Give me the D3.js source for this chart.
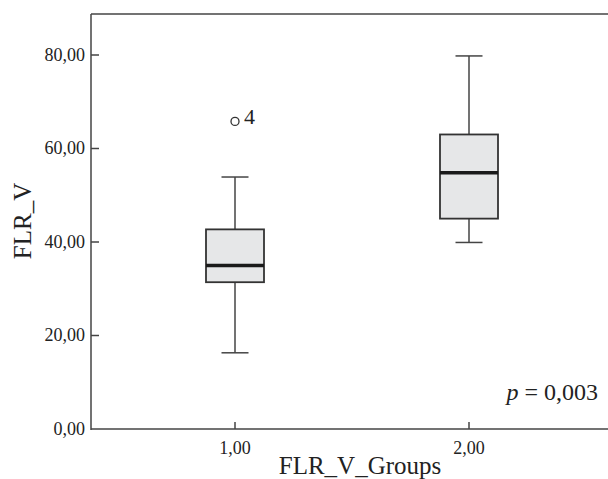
<!DOCTYPE html>
<html>
<head>
<meta charset="utf-8">
<script src="https://cdn.jsdelivr.net/npm/d3@7"></script>
<style>
  body { margin: 0; background: #fff; }
  svg text { font-family: "Liberation Serif", "Times New Roman", "DejaVu Serif", serif; }
</style>
</head>
<body>
<div class="chart"></div>
<script>
// box plot summaries
const groups = ['1,00', '2,00'];
const whiskerLow = [16.3, 39.9];
const q1 = [31.4, 45.0];
const median = [35.0, 54.8];
const q3 = [42.7, 63.0];
const whiskerHigh = [53.9, 79.8];
const outliers = [{group: '1,00', value: 65.8, label: '4'}];
const yTicks = [0, 20, 40, 60, 80];

const width = 608, height = 479;
const plotLeft = 91, plotTop = 14, plotBottom = 429;

const svg = d3.select('.chart').append('svg')
    .attr('width', width)
    .attr('height', height);

const y = d3.scaleLinear().domain([0, 80]).range([plotBottom, 55]);
const x = d3.scalePoint().domain(groups).range([235, 469]);

const fmt = d => d3.format('.2f')(d).replace('.', ',');
const ink = '#444';

// frame: left axis, bottom axis, top line
svg.append('line').attr('x1', plotLeft).attr('x2', plotLeft).attr('y1', plotTop).attr('y2', plotBottom + 1)
    .attr('stroke', ink).attr('stroke-width', 1.5);
svg.append('line').attr('x1', plotLeft).attr('x2', width).attr('y1', plotBottom).attr('y2', plotBottom)
    .attr('stroke', ink).attr('stroke-width', 1.5);
svg.append('line').attr('x1', plotLeft).attr('x2', width).attr('y1', plotTop).attr('y2', plotTop)
    .attr('stroke', ink).attr('stroke-width', 1.5);

// y ticks
const yt = svg.selectAll('.ytick').data(yTicks).enter().append('g')
    .attr('transform', d => 'translate(0,' + y(d) + ')');
yt.filter(d => d > 0).append('line').attr('x1', plotLeft).attr('x2', plotLeft + 8)
    .attr('stroke', ink).attr('stroke-width', 1.5);
yt.append('text')
    .attr('x', 85).attr('dy', '0.33em')
    .attr('text-anchor', 'end')
    .attr('font-size', '18px').attr('fill', '#222')
    .text(fmt);

// x ticks
const xt = svg.selectAll('.xtick').data(groups).enter().append('g')
    .attr('transform', d => 'translate(' + x(d) + ',0)');
xt.append('line').attr('y1', plotBottom).attr('y2', plotBottom - 7)
    .attr('stroke', ink).attr('stroke-width', 1.5);
xt.append('text')
    .attr('y', 454).attr('text-anchor', 'middle')
    .attr('font-size', '18px').attr('fill', '#222')
    .text(d => d);

// axis titles
svg.append('text')
    .attr('x', 360).attr('y', 474)
    .attr('text-anchor', 'middle')
    .attr('font-size', '25px').attr('fill', '#222')
    .text('FLR_V_Groups');
svg.append('text')
    .attr('transform', 'translate(31,221) rotate(-90)')
    .attr('text-anchor', 'middle')
    .attr('font-size', '25px').attr('fill', '#222')
    .text('FLR_V');

// boxes
const boxW = 58, capW = 27;
const boxes = groups.map((g, i) => ({g, lo: whiskerLow[i], q1: q1[i], med: median[i], q3: q3[i], hi: whiskerHigh[i]}));
const bx = svg.selectAll('.box').data(boxes).enter().append('g')
    .attr('transform', d => 'translate(' + x(d.g) + ',0)');

bx.append('line').attr('y1', d => y(d.hi)).attr('y2', d => y(d.q3))
    .attr('stroke', ink).attr('stroke-width', 1.5);
bx.append('line').attr('y1', d => y(d.q1)).attr('y2', d => y(d.lo))
    .attr('stroke', ink).attr('stroke-width', 1.5);
bx.append('line').attr('x1', -capW / 2).attr('x2', capW / 2)
    .attr('y1', d => y(d.hi)).attr('y2', d => y(d.hi))
    .attr('stroke', ink).attr('stroke-width', 1.5);
bx.append('line').attr('x1', -capW / 2).attr('x2', capW / 2)
    .attr('y1', d => y(d.lo)).attr('y2', d => y(d.lo))
    .attr('stroke', ink).attr('stroke-width', 1.5);
bx.append('rect')
    .attr('x', -boxW / 2).attr('width', boxW)
    .attr('y', d => y(d.q3)).attr('height', d => y(d.q1) - y(d.q3))
    .attr('fill', '#e6e7e8').attr('stroke', '#333').attr('stroke-width', 1.8);
bx.append('line').attr('x1', -boxW / 2).attr('x2', boxW / 2)
    .attr('y1', d => y(d.med)).attr('y2', d => y(d.med))
    .attr('stroke', '#1a1a1a').attr('stroke-width', 3.5);

// outliers
const out = svg.selectAll('.outlier').data(outliers).enter().append('g');
out.append('circle')
    .attr('cx', d => x(d.group)).attr('cy', d => y(d.value)).attr('r', 4)
    .attr('fill', 'none').attr('stroke', '#333').attr('stroke-width', 1.3);
out.append('text')
    .attr('x', d => x(d.group) + 9).attr('y', d => y(d.value) + 3)
    .attr('font-size', '22px').attr('fill', '#222')
    .text(d => d.label);

// p-value
const p = svg.append('text')
    .attr('x', 598).attr('y', 400)
    .attr('text-anchor', 'end')
    .attr('font-size', '24px').attr('fill', '#222');
p.append('tspan').attr('font-style', 'italic').text('p');
p.append('tspan').text(' = 0,003');
</script>
</body>
</html>
